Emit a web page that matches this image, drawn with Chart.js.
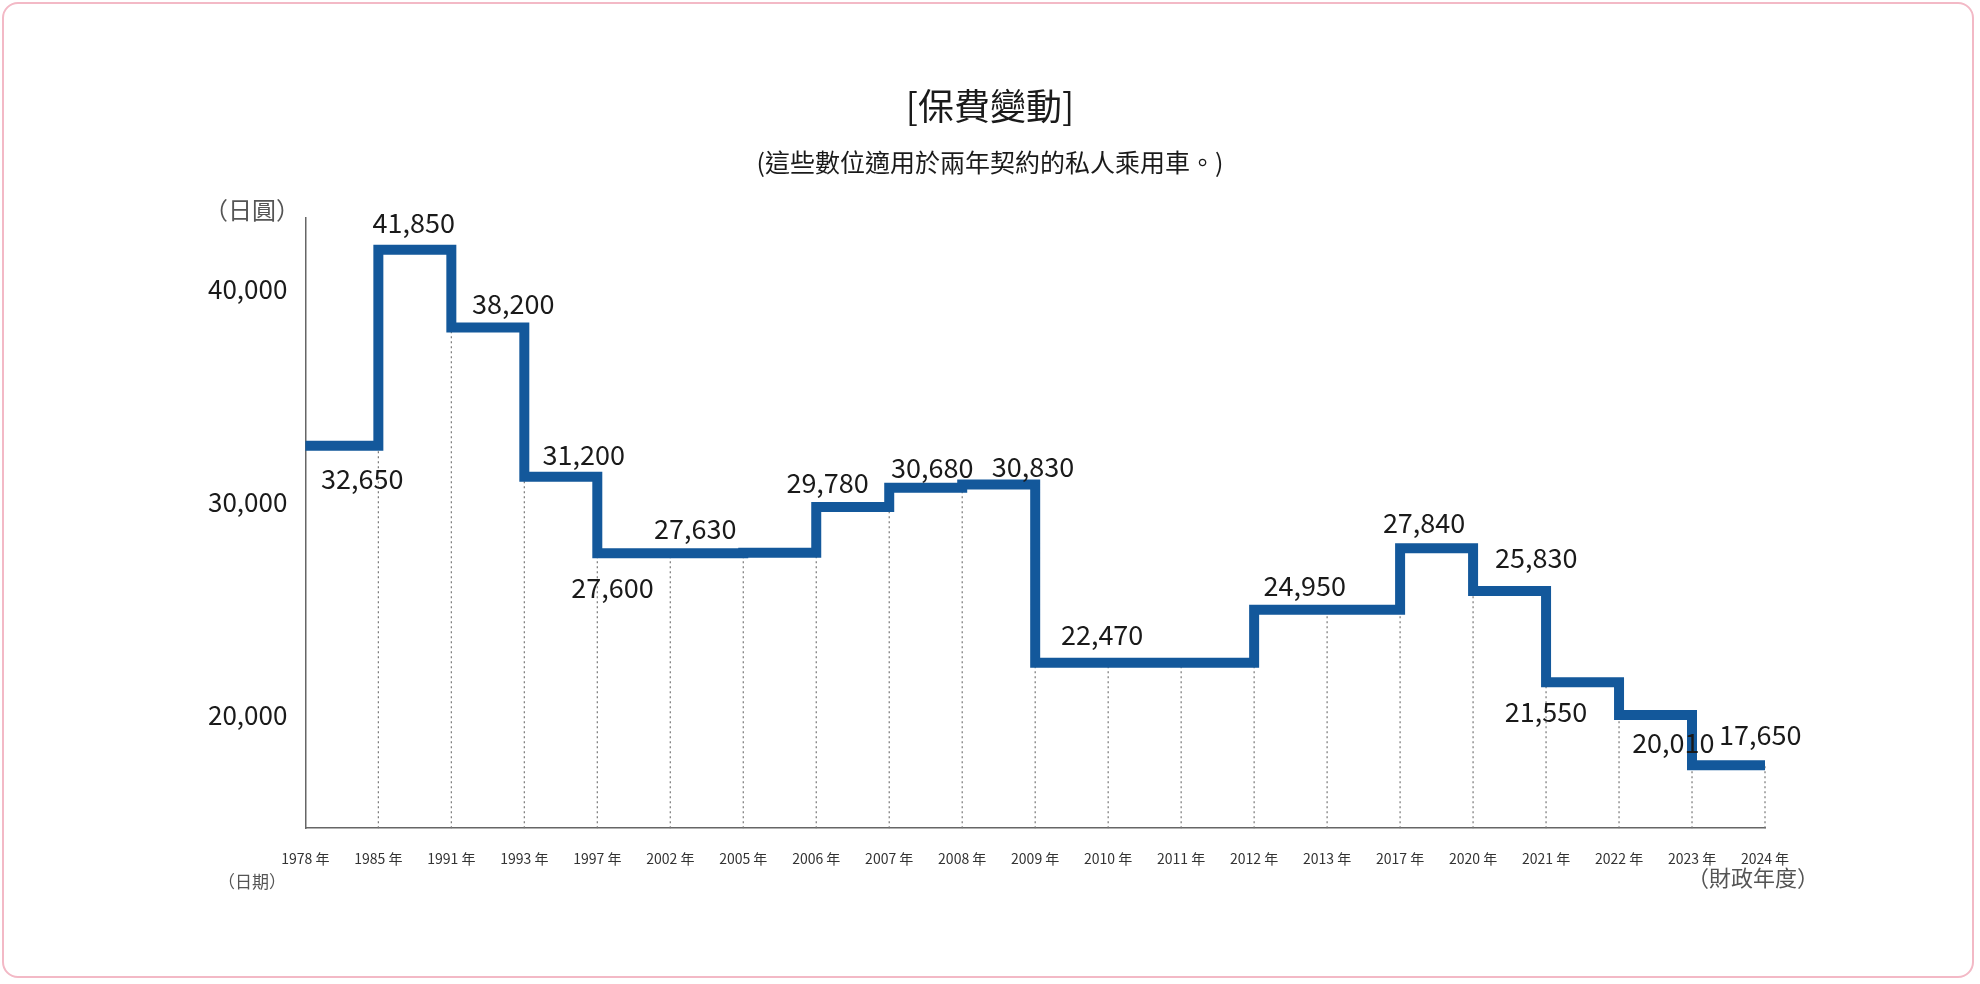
<!DOCTYPE html>
<html>
<head>
<meta charset="utf-8">
<script src="https://cdn.jsdelivr.net/npm/chart.js@4"></script>
<style>
  html, body { margin: 0; padding: 0; background: #fff; }
  #frame { position: absolute; left: 2px; top: 2px; width: 1972px; height: 976px; border: 2px solid #f3b9c6; border-radius: 16px; box-sizing: border-box; }
  #wrap { position: absolute; left: 0; top: 0; width: 1980px; height: 984px; }
</style>
</head>
<body>
<div id="frame"></div>
<div id="wrap"><canvas id="fee" width="1980" height="984"></canvas></div>
<script>
const years = ["1978 年", "1985 年", "1991 年", "1993 年", "1997 年", "2002 年", "2005 年", "2006 年", "2007 年", "2008 年",
  "2009 年", "2010 年", "2011 年", "2012 年", "2013 年", "2017 年", "2020 年", "2021 年", "2022 年", "2023 年", "2024 年"];
const fees = [32650, 41850, 38200, 31200, 27600, 27600, 27630, 29780, 30680, 30830,
  22470, 22470, 22470, 24950, 24950, 27840, 25830, 21550, 20010, 17650, 17650];
const yTicks = [20000, 30000, 40000];
// which points get a value label
const labelIdx = [0, 1, 2, 3, 4, 6, 7, 8, 9, 10, 13, 15, 16, 17, 18, 19];

const font = '"Noto Sans CJK TC", "Noto Sans", sans-serif';
const S = 1.263;

// label offsets (px, before scaling) from the point
const offs = {
  0: [45, 26], 1: [28, -21], 2: [49, -19], 3: [47, -17], 4: [12, 27], 6: [-38, -19],
  7: [9, -19], 8: [34, -16], 9: [56, -14], 10: [53, -22], 13: [40, -19], 15: [19, -20],
  16: [50, -26], 17: [0, 23], 18: [43, 22], 19: [54, -24]
};

const extras = {
  id: "extras",
  beforeDatasetsDraw(chart) {
    const { ctx, scales: { x, y } } = chart;
    ctx.save();
    ctx.strokeStyle = "#777";
    ctx.lineWidth = 1.2;
    ctx.setLineDash([2, 3]);
    for (let i = 1; i < fees.length; i++) {
      const px = x.getPixelForValue(i);
      const top = Math.max(y.getPixelForValue(fees[i]), y.getPixelForValue(fees[i - 1]));
      ctx.beginPath();
      ctx.moveTo(px, y.bottom);
      ctx.lineTo(px, top);
      ctx.stroke();
    }
    ctx.restore();
  },
  afterDraw(chart) {
    const { ctx, scales: { x, y } } = chart;
    ctx.save();
    ctx.fillStyle = "#1a1a1a";
    ctx.textAlign = "center";
    ctx.textBaseline = "middle";
    ctx.font = "27px " + font;
    labelIdx.forEach(i => {
      const o = offs[i];
      ctx.fillText(fees[i].toLocaleString("en-US"), x.getPixelForValue(i) + o[0] * S, y.getPixelForValue(fees[i]) + o[1] * S);
    });
    ctx.font = "36px " + font;
    ctx.fillText("[保費變動]", 990, 106);
    ctx.font = "25px " + font;
    ctx.fillText("(這些數位適用於兩年契約的私人乘用車。)", 990, 162);
    ctx.font = "24px " + font;
    ctx.fillStyle = "#555";
    ctx.fillText("（日圓）", 252, 210);
    ctx.font = "17px " + font;
    ctx.fillText("（日期）", 252, 882);
    ctx.font = "22px " + font;
    ctx.fillText("（財政年度）", 1753, 878);
    ctx.restore();
  }
};

new Chart(document.getElementById("fee"), {
  type: "line",
  data: {
    labels: years,
    datasets: [{
      data: fees,
      stepped: "before",
      borderColor: "#13589b",
      borderWidth: 10,
      pointRadius: 0,
      borderJoinStyle: "miter",
      fill: false
    }]
  },
  options: {
    responsive: false,
    animation: false,
    devicePixelRatio: 1,
    layout: { padding: { left: 190, right: 215, top: 218, bottom: 95 } },
    plugins: { legend: { display: false }, tooltip: { enabled: false } },
    scales: {
      x: {
        offset: false,
        grid: { display: false, drawTicks: false },
        border: { color: "#666", width: 1.5 },
        ticks: {
          autoSkip: false, maxRotation: 0, padding: 22, color: "#333",
          font: { family: font, size: 14 }
        }
      },
      y: {
        min: 14700,
        max: 43340,
        afterBuildTicks: axis => { axis.ticks = yTicks.map(v => ({ value: v })); },
        grid: { display: false, drawTicks: false },
        border: { color: "#666", width: 1.5 },
        ticks: {
          padding: 18, color: "#1a1a1a",
          font: { family: font, size: 26 },
          callback: v => v.toLocaleString("en-US")
        }
      }
    }
  },
  plugins: [extras]
});
</script>
</body>
</html>
